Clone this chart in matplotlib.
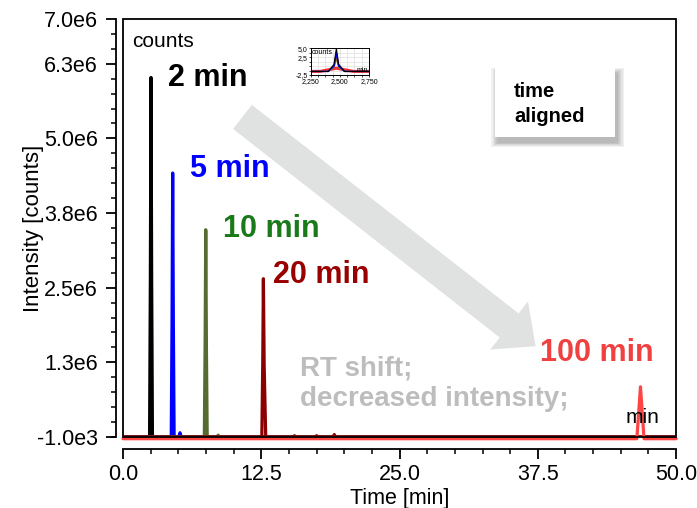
import numpy as np
import matplotlib
matplotlib.use("Agg")
import matplotlib.pyplot as plt
from matplotlib.patches import Rectangle
from matplotlib.ticker import MultipleLocator, FixedLocator

plt.rcParams['font.family'] = ['Liberation Sans', 'DejaVu Sans']

# chromatogram traces: (time [min], intensity [counts])
t_2min = [0, 2.40, 2.47, 2.53, 2.59, 2.66, 50]
i_2min = [0, 0, 2.6e6, 6.02e6, 2.6e6, 0, 0]

t_5min = [0, 4.36, 4.43, 4.49, 4.55, 4.62, 5.05, 5.15, 5.25, 50]
i_5min = [0, 0, 1.9e6, 4.42e6, 1.9e6, 0, 0, 0.07e6, 0, 0]

t_10min = [0, 7.35, 7.42, 7.48, 7.54, 7.61, 8.5, 8.6, 8.7, 50]
i_10min = [0, 0, 1.5e6, 3.47e6, 1.5e6, 0, 0, 0.03e6, 0, 0]

t_20min = [0, 12.55, 12.63, 12.69, 12.76, 12.9, 15.4, 15.5, 15.6,
           17.4, 17.5, 17.6, 19.0, 19.1, 19.2, 50]
i_20min = [0, 0, 1.2e6, 2.65e6, 1.2e6, 0, 0, 0.02e6, 0,
           0, 0.02e6, 0, 0, 0.04e6, 0, 0]

t_100min = [0, 46.45, 46.6, 46.78, 46.96, 47.1, 50]
i_100min = [-0.03e6, -0.03e6, 0.35e6, 0.84e6, 0.35e6, -0.03e6, -0.03e6]

traces = [
    (t_2min, i_2min, 'black'),
    (t_5min, i_5min, '#0000ff'),
    (t_10min, i_10min, '#556b2f'),
    (t_20min, i_20min, '#8b0000'),
    (t_100min, i_100min, '#ff4444'),
]

# peak labels: text, time, intensity, colour
peak_labels = ['2 min', '5 min', '10 min', '20 min', '100 min']
label_t = [4.1, 6.1, 9.0, 13.6, 37.7]
label_i = [6.02e6, 4.48e6, 3.49e6, 2.71e6, 1.41e6]
label_col = ['black', '#0000ff', '#1a7a1a', '#990000', '#f04040']

yticks = [-1e3, 1.25e6, 2.5e6, 3.75e6, 5e6, 6.25e6, 7e6]
ytick_labels = ['-1.0e3', '1.3e6', '2.5e6', '3.8e6', '5.0e6', '6.3e6', '7.0e6']
xticks = [0, 12.5, 25, 37.5, 50]
xtick_labels = ['0.0', '12.5', '25.0', '37.5', '50.0']

fig = plt.figure(figsize=(6.97, 5.08), dpi=100)
ax = fig.add_axes([0.1765, 0.1398, 0.7935, 0.8228])

for t, i, c in traces:
    ax.plot(t, i, color=c, lw=2.3, solid_capstyle='round', solid_joinstyle='round',
            clip_on=(c != '#ff4444'))

ax.set_xlim(0, 50)
ax.set_ylim(-1e3, 7e6)

# axes: detached left/bottom axis lines plus a closed frame around the data
for s in ['top', 'right']:
    ax.spines[s].set_visible(False)
ax.spines['left'].set_position(('outward', 5))
ax.spines['bottom'].set_position(('outward', 9))
ax.spines['left'].set_linewidth(1.3)
ax.spines['bottom'].set_linewidth(1.3)
ax.add_patch(Rectangle((0, 0), 1, 1, transform=ax.transAxes, fill=False,
                       ec='black', lw=1.3, clip_on=False, zorder=5))

ax.yaxis.set_major_locator(FixedLocator(yticks))
ax.set_yticklabels(ytick_labels)
ax.yaxis.set_minor_locator(MultipleLocator(0.25e6))
ax.set_xticks(xticks)
ax.set_xticklabels(xtick_labels)
ax.xaxis.set_minor_locator(MultipleLocator(2.5))
ax.tick_params(which='major', direction='out', length=7, width=1.3, labelsize=15.5)
ax.tick_params(axis='y', which='major', pad=6)
ax.tick_params(which='minor', direction='out', length=3.5, width=1.1)
ax.set_xlabel('Time [min]', fontsize=15.5, labelpad=2)
ax.set_ylabel('Intensity [counts]', fontsize=16)
ax.yaxis.set_label_coords(-0.143, 0.5)

ax.text(0.8, 6.62e6, 'counts', fontsize=15, va='center')
ax.text(47.0, 0.32e6, 'min', fontsize=15, ha='center', va='center')

for txt, t, i, c in zip(peak_labels, label_t, label_i, label_col):
    ax.text(t, i, txt, color=c, fontsize=22, fontweight='bold', va='center')

ax.text(16.0, 1.15e6, 'RT shift;', color='#bdbdbd', fontsize=20,
        fontweight='bold', va='center')
ax.text(16.0, 0.64e6, 'decreased intensity;', color='#bdbdbd', fontsize=20,
        fontweight='bold', va='center')

# big grey arrow
ax.annotate('', xy=(37.3, 1.52e6), xytext=(10.8, 5.36e6),
            arrowprops=dict(arrowstyle='simple,head_length=1.1,head_width=2.0,tail_width=1.0',
                            mutation_scale=22, color='#e0e1e1', lw=0,
                            shrinkA=0, shrinkB=0), zorder=1)

# "time aligned" note box with soft shadow
bx, by, bw, bh = 0.710, 0.7303, 0.172, 0.1378
for k in range(6):
    grow = (5 - k) * 0.0018
    fig.patches.append(Rectangle((bx + 0.004 - grow, by - 0.011 - grow),
                                 bw + 2 * grow, bh + 2 * grow,
                                 transform=fig.transFigure, fc='#444444',
                                 ec='none', alpha=0.07, zorder=3))
fig.patches.append(Rectangle((bx, by), bw, bh, transform=fig.transFigure,
                             fc='white', ec='none', zorder=4))
fig.text(0.7375, 0.819, 'time', fontsize=14.5, fontweight='bold', va='center', zorder=6)
fig.text(0.7375, 0.7697, 'aligned', fontsize=14.5, fontweight='bold', va='center', zorder=6)

# small overview inset
ins_x = [2.25, 2.40, 2.45, 2.47, 2.49, 2.54, 2.75]
ins_black = [-1.5, -1.5, 0.5, 5.0, 0.5, -1.5, -1.5]
ins_blue = [-1.5, -1.5, 0.0, 3.6, 0.0, -1.5, -1.5]
ins_olive = [-1.5, -1.5, -0.5, 2.4, -0.5, -1.5, -1.5]
ins_red_x = [2.25, 2.33, 2.47, 2.62, 2.75]
ins_red = [-1.5, -1.5, -0.6, -1.5, -1.5]
axi = fig.add_axes([0.4458, 0.8524, 0.0836, 0.0526])
axi.plot(ins_red_x, ins_red, color='#ff3030', lw=2.2)
axi.plot(ins_x, ins_olive, color='#9a6b2f', lw=1.0)
axi.plot(ins_x, ins_blue, color='#0000ff', lw=1.0)
axi.plot(ins_x, ins_black, color='black', lw=0.8)
axi.set_xlim(2.25, 2.75)
axi.set_ylim(-2.5, 5.0)
axi.set_xticks([2.25, 2.5, 2.75])
axi.set_xticklabels(['2,250', '2,500', '2,750'])
axi.set_yticks([-2.5, 2.5, 5.0])
axi.set_yticklabels(['-2,5', '2,5', '5,0'])
axi.xaxis.set_minor_locator(MultipleLocator(0.0625))
axi.yaxis.set_minor_locator(MultipleLocator(1.25))
axi.grid(which='both', color='#dddddd', lw=0.5)
axi.tick_params(which='both', length=1.5, width=0.5, labelsize=5, pad=0.5)
for s in axi.spines.values():
    s.set_linewidth(0.7)
axi.text(0.02, 0.97, 'counts', transform=axi.transAxes, fontsize=5, va='top')
axi.text(0.98, 0.05, 'min', transform=axi.transAxes, fontsize=5, ha='right', va='bottom')

fig.savefig('out.png', dpi=100)
